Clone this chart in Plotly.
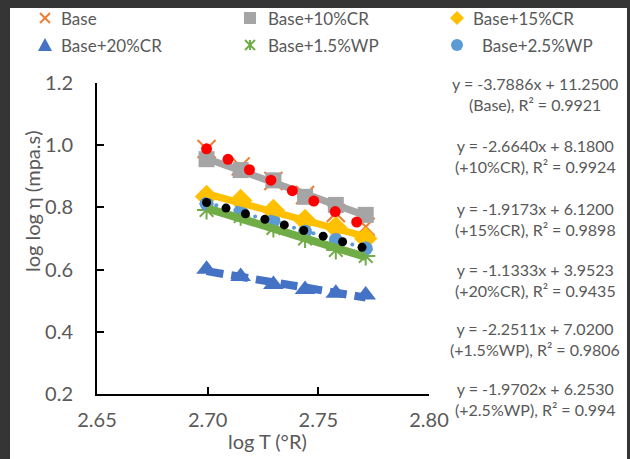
import numpy as np
import plotly.graph_objects as go

# log10 of absolute temperature (°R)
log_t = [2.6995, 2.7149, 2.7297, 2.7440, 2.7579, 2.7714]

# log log viscosity for each blend
base = [0.988, 0.932, 0.885, 0.840, 0.782, 0.738]
cr10 = [0.955, 0.920, 0.887, 0.834, 0.808, 0.776]
cr15 = [0.835, 0.822, 0.790, 0.758, 0.735, 0.700]
cr20 = [0.601, 0.578, 0.552, 0.536, 0.524, 0.518]
wp15 = [0.792, 0.772, 0.734, 0.700, 0.663, 0.644]
wp25 = [0.812, 0.788, 0.757, 0.722, 0.695, 0.668]

series_names = ["Base", "Base+10%CR", "Base+15%CR", "Base+20%CR", "Base+1.5%WP", "Base+2.5%WP"]

equation_labels = [
    "y = -3.7886x + 11.2500<br>(Base), R² = 0.9921",
    "y = -2.6640x + 8.1800<br>(+10%CR), R² = 0.9924",
    "y = -1.9173x + 6.1200<br>(+15%CR), R² = 0.9898",
    "y = -1.1333x + 3.9523<br>(+20%CR), R² = 0.9435",
    "y = -2.2511x + 7.0200<br>(+1.5%WP), R² = 0.9806",
    "y = -1.9702x + 6.2530<br>(+2.5%WP), R² = 0.994",
]

x_ticks = [2.65, 2.70, 2.75, 2.80]
y_ticks = [0.2, 0.4, 0.6, 0.8, 1.0, 1.2]

W, H = 630, 459
ML, MR, MT, MB = 97, 201, 83, 65
PW, PH = W - ML - MR, H - MT - MB
FONT = "Lato"
GREY_TXT = "#595959"

ORANGE, GREY, GOLD, BLUE, GREEN, LBLUE = "#ED7D31", "#A5A5A5", "#FFC000", "#4472C4", "#70AD47", "#5B9BD5"


def px(p):
    """page pixel column -> paper x"""
    return (p - ML) / PW


def py(q):
    """page pixel row (from top) -> paper y"""
    return (H - MB - q) / PH


fig = go.Figure()
x = np.array(log_t)


def fit_line(y):
    k, b = np.polyfit(x, np.array(y), 1)
    return k, b


marker_styles = [
    dict(symbol="x-thin-open", size=18, color=ORANGE, line=dict(color=ORANGE, width=2)),
    dict(symbol="square", size=16, color=GREY),
    dict(symbol="diamond", size=18, color=GOLD),
    dict(symbol="triangle-up", size=18, color=BLUE),
    dict(symbol="asterisk-open", size=16, color=GREEN, line=dict(color=GREEN, width=2)),
    dict(symbol="circle", size=14, color=LBLUE),
]
series_vals = [base, cr10, cr15, cr20, wp15, wp25]

# data markers
for vals, mk, name in zip(series_vals, marker_styles, series_names):
    fig.add_trace(go.Scatter(x=log_t, y=vals, mode="markers", name=name, marker=mk,
                             showlegend=False, cliponaxis=False))

xx = np.array([x.min(), x.max()])

# solid / dashed linear trendlines
for vals, color, dash, w in [(cr10, GREY, "solid", 7), (cr15, GOLD, "solid", 7),
                             (wp15, GREEN, "solid", 8), (cr20, BLUE, "17px,8px", 8)]:
    k, b = fit_line(vals)
    fig.add_trace(go.Scatter(x=xx, y=k * xx + b, mode="lines", showlegend=False,
                             line=dict(color=color, width=w, dash=dash), hoverinfo="skip"))


# round-dot trendlines drawn as evenly spaced dots along the fitted line
def dotted(vals, step, offset, color, size):
    k, b = fit_line(vals)
    xs = np.arange(x.min() + offset, x.max() + 1e-9, step)
    fig.add_trace(go.Scatter(x=xs, y=k * xs + b, mode="markers", showlegend=False,
                             marker=dict(color=color, size=size), hoverinfo="skip"))


dotted(wp25, 0.00878, 0.00439, LBLUE, 4)
dotted(wp25, 0.00878, 0.0, "#000000", 9)
dotted(base, 0.00969, 0.0, "#FF0000", 11)


# legend symbols as paper-space shapes
def seg(x0, y0, x1, y1, color, w=2):
    fig.add_shape(type="line", xref="paper", yref="paper",
                  x0=px(x0), y0=py(y0), x1=px(x1), y1=py(y1),
                  line=dict(color=color, width=w))


def poly(pts, color):
    path = "M " + " L ".join(f"{px(a):.5f},{py(b):.5f}" for a, b in pts) + " Z"
    fig.add_shape(type="path", xref="paper", yref="paper", path=path,
                  fillcolor=color, line=dict(width=0))


def sym_x(cx, cy):
    r = 5
    seg(cx - r, cy - r, cx + r, cy + r, ORANGE)
    seg(cx - r, cy + r, cx + r, cy - r, ORANGE)


def sym_square(cx, cy):
    r = 6
    poly([(cx - r, cy - r), (cx + r, cy - r), (cx + r, cy + r), (cx - r, cy + r)], GREY)


def sym_diamond(cx, cy):
    r = 7
    poly([(cx, cy - r), (cx + r, cy), (cx, cy + r), (cx - r, cy)], GOLD)


def sym_triangle(cx, cy):
    r = 7
    poly([(cx, cy - r), (cx + r, cy + r - 1), (cx - r, cy + r - 1)], BLUE)


def sym_star(cx, cy):
    r = 5
    seg(cx - r, cy - r, cx + r, cy + r, GREEN)
    seg(cx - r, cy + r, cx + r, cy - r, GREEN)
    seg(cx, cy - r, cx, cy + r, GREEN)


def sym_circle(cx, cy):
    r = 6
    fig.add_shape(type="circle", xref="paper", yref="paper",
                  x0=px(cx - r), x1=px(cx + r), y0=py(cy + r), y1=py(cy - r),
                  fillcolor=LBLUE, line=dict(width=0))


legend_syms = [sym_x, sym_square, sym_diamond, sym_triangle, sym_star, sym_circle]
leg_sym_x = [45, 250, 457, 45, 250, 457]
leg_txt_x = [59, 266, 471, 59, 266, 480]
leg_y = [18, 18, 18, 45, 45, 45]
for i, name in enumerate(series_names):
    legend_syms[i](leg_sym_x[i], leg_y[i])
    fig.add_annotation(xref="paper", yref="paper", x=px(leg_txt_x[i]), y=py(leg_y[i]),
                       text=name, showarrow=False, xanchor="left", yanchor="middle",
                       font=dict(family=FONT, size=17, color=GREY_TXT))

# trendline equations on the right
eq_y = [94, 156, 219, 280, 339, 399]
for txt, q in zip(equation_labels, eq_y):
    fig.add_annotation(xref="paper", yref="paper", x=px(535), y=py(q),
                       text=txt, showarrow=False, xanchor="center", yanchor="middle",
                       align="center", font=dict(family=FONT, size=16, color=GREY_TXT))

# axis titles
fig.add_annotation(xref="paper", yref="paper", x=px(267), y=py(441),
                   text="log T (°R)", showarrow=False, xanchor="center", yanchor="middle",
                   font=dict(family=FONT, size=20, color=GREY_TXT))
fig.add_annotation(xref="paper", yref="paper", x=px(32), y=py(201),
                   text="log log η (mpa.s)", showarrow=False, textangle=-90,
                   xanchor="center", yanchor="middle",
                   font=dict(family=FONT, size=20, color=GREY_TXT))

# dark border strips
for x0, x1, y0, y1 in [(0, 10, 0, H), (0, W, 0, 8), (627, W, 0, H)]:
    fig.add_shape(type="rect", xref="paper", yref="paper",
                  x0=px(x0), x1=px(x1), y0=py(y1), y1=py(y0),
                  line=dict(width=0), fillcolor="#353535", layer="above")

fig.update_layout(
    width=W, height=H,
    margin=dict(l=ML, r=MR, t=MT, b=MB, autoexpand=False),
    paper_bgcolor="white", plot_bgcolor="white",
    font=dict(family=FONT, color=GREY_TXT),
    showlegend=False,
    xaxis=dict(range=[2.65, 2.80], tickvals=x_ticks, ticktext=[f"{v:.2f}" for v in x_ticks],
               showgrid=False, zeroline=False, showline=True, linecolor="black", linewidth=2,
               ticks="inside", ticklen=7, tickwidth=2, tickcolor="black",
               tickfont=dict(family=FONT, size=20, color=GREY_TXT), ticklabelstandoff=7),
    yaxis=dict(range=[0.2, 1.2], tickvals=y_ticks, ticktext=[f"{v:.1f}" for v in y_ticks],
               showgrid=False, zeroline=False, showline=True, linecolor="black", linewidth=2,
               ticks="inside", ticklen=7, tickwidth=2, tickcolor="black",
               tickfont=dict(family=FONT, size=20, color=GREY_TXT), ticklabelstandoff=18),
)

fig.write_html("out.html")
